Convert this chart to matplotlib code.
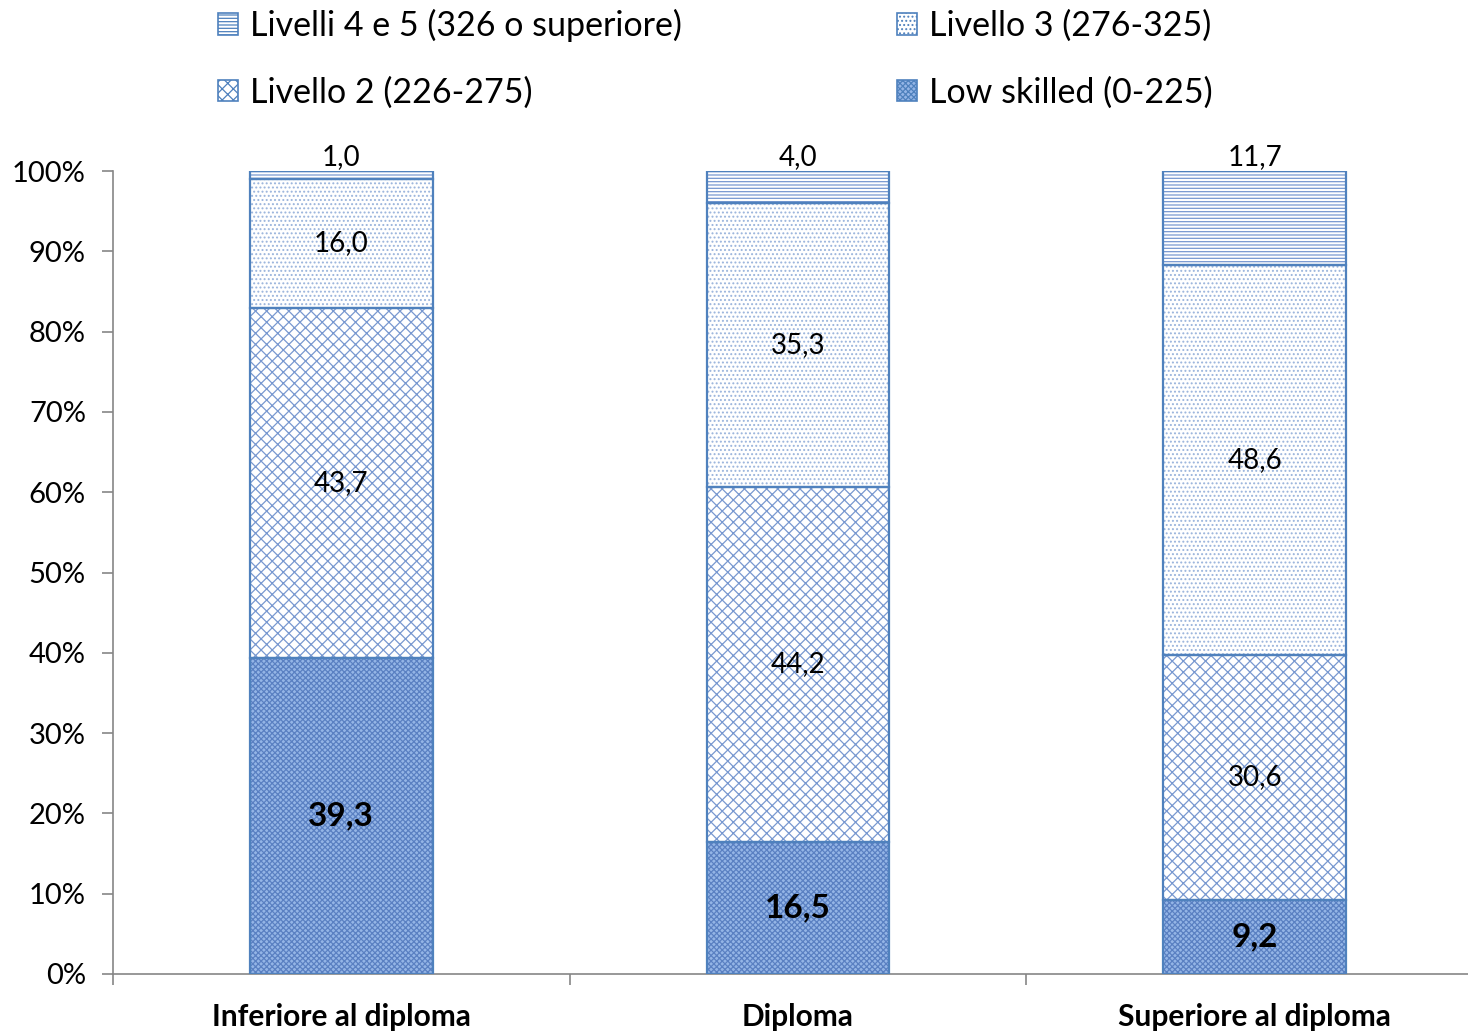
import matplotlib
matplotlib.use("Agg")
import matplotlib.pyplot as plt
import numpy as np
from matplotlib.patches import Patch
from matplotlib.ticker import FixedLocator, PercentFormatter

categories = ["Inferiore al diploma", "Diploma", "Superiore al diploma"]
series_names = ["Low skilled (0-225)", "Livello 2 (226-275)",
                "Livello 3 (276-325)", "Livelli 4 e 5 (326 o superiore)"]
low_skilled = [39.3, 16.5, 9.2]
livello2 = [43.7, 44.2, 30.6]
livello3 = [16.0, 35.3, 48.6]
livelli45 = [1.0, 4.0, 11.7]
yticks = [0, 10, 20, 30, 40, 50, 60, 70, 80, 90, 100]

plt.rcParams['font.family'] = ['Lato', 'DejaVu Sans']
plt.rcParams['hatch.linewidth'] = 0.9

W, H = 1468, 1032
fig = plt.figure(figsize=(W / 100, H / 100), dpi=100)
ax = fig.add_axes([113 / W, 58 / H, (1483 - 113) / W, 803 / H])

data = np.array([low_skilled, livello2, livello3, livelli45])
totals = data.sum(axis=0)
pct = data / totals * 100

faces = ["#94b5e6", "white", "white", "white"]
hcols = ["#5a80c2", "#7898d0", "#9ab4dc", "#7898d0"]
hatches = ["xxxxxx", "xxx", "....", "-----"]
edge = "#4f81bd"
x = np.arange(len(categories))
width = 0.40
bottom = np.zeros(len(categories))
for i in range(4):
    ax.bar(x, pct[i], width, bottom=bottom, color=faces[i], edgecolor=hcols[i],
           hatch=hatches[i], linewidth=0, zorder=2)
    ax.bar(x, pct[i], width, bottom=bottom, fill=False, edgecolor=edge,
           linewidth=1.6, zorder=3)
    for j in range(len(categories)):
        lab = f"{data[i, j]:.1f}".replace(".", ",")
        if i == 0:
            ax.text(x[j], bottom[j] + pct[i, j] / 2, lab, ha="center", va="center",
                    fontsize=24, fontweight="bold", color="black", zorder=4)
        elif i == 3:
            ax.annotate(lab, (x[j], 100), xytext=(0, 1), textcoords="offset points",
                        ha="center", va="bottom", fontsize=20, color="black", zorder=4)
        else:
            ax.text(x[j], bottom[j] + pct[i, j] / 2, lab, ha="center", va="center",
                    fontsize=20, color="black", zorder=4)
    bottom += pct[i]

ax.set_xlim(-0.5, len(categories) - 0.5)
ax.set_ylim(0, 100)
ax.set_yticks(yticks)
ax.yaxis.set_major_formatter(PercentFormatter(decimals=0))
ax.set_xticks(x)
ax.set_xticklabels(categories, fontsize=21.5, fontweight="bold")
ax.xaxis.set_minor_locator(FixedLocator(np.arange(-0.5, len(categories), 1.0)))
ax.tick_params(axis="x", which="major", length=0, pad=21)
ax.tick_params(axis="x", which="minor", length=8, color="#868686", width=1.2)
ax.tick_params(axis="y", length=8, color="#868686", width=1.2, labelsize=21, pad=11.5)
for s in ["top", "right"]:
    ax.spines[s].set_visible(False)
for s in ["left", "bottom"]:
    ax.spines[s].set_color("#868686")
    ax.spines[s].set_linewidth(1.2)

handles = []
for i in range(4):
    handles.append(Patch(facecolor=faces[i], edgecolor=edge, hatch=hatches[i], linewidth=1.2))
order = [3, 1, 2, 0]
leg = fig.legend([handles[k] for k in order], [series_names[k] for k in order],
                 loc="upper left", bbox_to_anchor=(201 / W, 1.0 + 8 / H), ncol=2,
                 frameon=False, fontsize=24.5, handlelength=0.6, handleheight=0.6,
                 handletextpad=0.35, columnspacing=6.3, labelspacing=1.0,
                 borderaxespad=0.1)

fig.savefig("out.png", dpi=100)
